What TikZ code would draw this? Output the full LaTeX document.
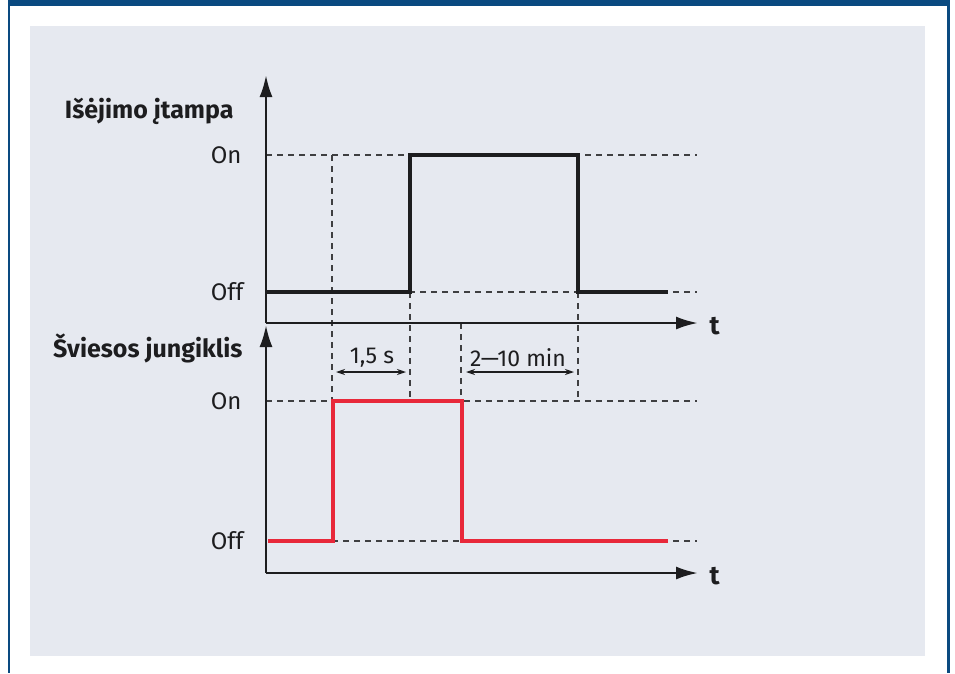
\documentclass[tikz,border=0pt]{standalone}
\usepackage{fontspec}
\setmainfont{Fira Sans}
\usetikzlibrary{arrows.meta}
\definecolor{frameblue}{RGB}{10,74,128}
\definecolor{panelgray}{RGB}{230,233,240}
\definecolor{inkdark}{RGB}{29,29,31}
\definecolor{signalred}{RGB}{232,40,58}
\begin{document}
\begin{tikzpicture}[x=1pt,y=-1pt,
    axis/.style={draw=inkdark, line width=2.6pt, -{Latex[length=22pt,width=13pt]}},
    guide/.style={draw=inkdark!85, line width=1.3pt, dash pattern=on 6pt off 5pt},
    signal/.style={line width=4.8pt},
    span/.style={draw=inkdark, line width=1.6pt, {Stealth[length=9pt,width=6pt]}-{Stealth[length=9pt,width=6pt]}},
    level/.style={anchor=east, text=inkdark, font=\fontsize{24}{28}\selectfont},
    caption/.style={anchor=base east, text=inkdark, font=\fontsize{25}{30}\selectfont\bfseries},
    tlabel/.style={anchor=west, text=inkdark, font=\fontsize{26}{30}\selectfont\bfseries},
    spanlabel/.style={text=inkdark, font=\fontsize{23}{27}\selectfont, inner sep=0pt}]
  \useasboundingbox (0,0) rectangle (955,673);
  % Frame and panel
  \fill[frameblue] (8,0) rectangle (950,6);
  \fill[frameblue] (8,0) rectangle (10,673);
  \fill[frameblue] (947,0) rectangle (950,673);
  \fill[panelgray] (30,26) rectangle (925,656);

  % Upper plot: output voltage
  \coordinate (o1) at (266,323);
  \coordinate (y1) at (266,75);
  \coordinate (x1) at (698,323);
  \coordinate (on1a) at (266,155);
  \coordinate (on1b) at (697,155);
  \coordinate (off1a) at (266,292);
  \coordinate (off1b) at (697,292);
  % Lower plot: light switch
  \coordinate (o2) at (266,573);
  \coordinate (y2) at (266,325);
  \coordinate (x2) at (698,573);
  \coordinate (on2a) at (266,401);
  \coordinate (on2b) at (697,401);
  \coordinate (off2a) at (332,541);
  \coordinate (off2b) at (697,541);

  % Guide lines
  \draw[guide] (on1a) -- (on1b);
  \draw[guide] (off1a) -- (off1b);
  \draw[guide] (on2a) -- (on2b);
  \draw[guide] (off2a) -- (off2b);
  \coordinate (ga) at (332,155);
  \coordinate (gb) at (410,292);
  \coordinate (gc) at (461,323);
  \coordinate (gd) at (578,292);
  \draw[guide] (ga) -- (ga |- on2a);
  \draw[guide] (gb) -- (gb |- on2a);
  \draw[guide] (gc) -- (gc |- on2a);
  \draw[guide] (gd) -- (gd |- on2a);

  % Signals
  \draw[signal, inkdark] (off1a) -- (410,292) -- (410,155) -- (578,155) -- (578,292) -- (668,292);
  \draw[signal, signalred] (268,541) -- (333,541) -- (333,401) -- (462,401) -- (462,541) -- (668,541);

  % Axes
  \draw[axis] (o1) -- (y1);
  \draw[axis] (o1) -- (x1);
  \draw[axis] (o2) -- (y2);
  \draw[axis] (o2) -- (x2);

  % Time spans
  \coordinate (s1a) at (336,372);
  \coordinate (s1b) at (406,372);
  \coordinate (s2a) at (466,372);
  \coordinate (s2b) at (574,372);
  \draw[span] (s1a) -- (s1b);
  \draw[span] (s2a) -- (s2b);
  \node[spanlabel] (delay) at (372,358) {1,5 s};
  \node[spanlabel] (hold) at (518,358) {2—10 min};

  % Labels
  \node[caption] (cap1) at (237,118) {Išėjimo įtampa};
  \node[caption] (cap2) at (246,357) {Šviesos jungiklis};
  \node[level] (lon1) at (245,155) {On};
  \node[level] (loff1) at (247,292) {Off};
  \node[level] (lon2) at (245,401) {On};
  \node[level] (loff2) at (247,541) {Off};
  \node[tlabel] (t1) at (706,326) {t};
  \node[tlabel] (t2) at (706,576) {t};
\end{tikzpicture}
\end{document}
